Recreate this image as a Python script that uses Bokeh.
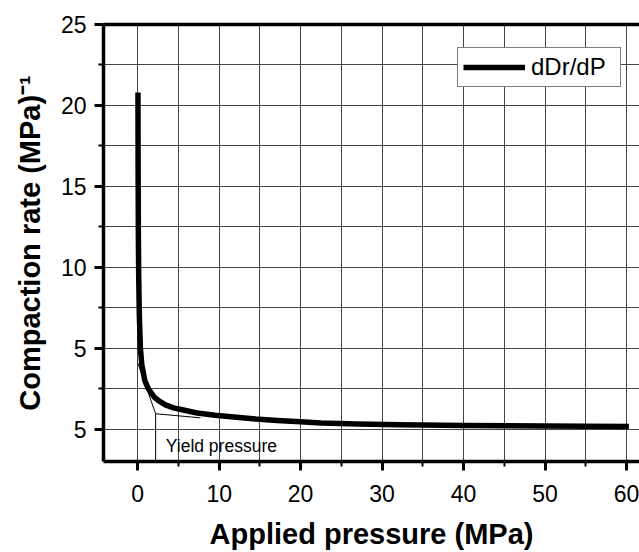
from bokeh.plotting import figure
from bokeh.models import (SingleIntervalTicker, FixedTicker, LinearAxis, Legend,
                          LegendItem, Range1d)
from bokeh.core.properties import value
from bokeh.embed import file_html
from bokeh.resources import INLINE

# ---- data ----
pressure = [0.03, 0.05, 0.08, 0.12, 0.2, 0.33, 0.5, 0.87, 1.3, 2.0, 2.6, 3.4,
            4.5, 5.6, 7.3, 9.5, 11.8, 14.5, 17.1, 20.0, 22.5, 27.0, 32.0,
            40.0, 50.0, 60.3]
rate = [20.8, 16.0, 12.0, 9.5, 7.0, 5.0, 4.0, 3.0, 2.5, 2.0, 1.75, 1.5,
        1.3, 1.18, 1.0, 0.86, 0.75, 0.62, 0.53, 0.45, 0.38, 0.32, 0.27,
        0.22, 0.19, 0.17]
tangent_x = [0.0, 2.2, 7.7]
tangent_y = [4.1, 0.95, 0.7]
yield_x = [2.2, 2.2]
yield_y = [0.95, -2.0]
note_x = [3.44]
note_y = [-1.02]
note_text = ["Yield pressure"]
y_ticks = [0, 5, 10, 15, 20, 25]
y_tick_labels = ["5", "5", "10", "15", "20", "25"]
series_name = "dDr/dP"

FONT = "Liberation Sans"

p = figure(width=639, height=552, output_backend="svg", toolbar_location=None,
           x_range=Range1d(-4.2, 61.6), y_range=Range1d(-2, 25),
           min_border_left=103, min_border_right=0, min_border_top=24,
           min_border_bottom=90)
p.outline_line_color = None
p.background_fill_color = "white"
p.border_fill_color = "white"

xt = SingleIntervalTicker(interval=10, num_minor_ticks=2)
yt = SingleIntervalTicker(interval=5, num_minor_ticks=2)
p.xaxis.ticker = xt
p.yaxis.ticker = yt
p.xgrid.ticker = xt
p.ygrid.ticker = yt
p.yaxis.major_label_overrides = {t: l for t, l in zip(y_ticks, y_tick_labels)}

for g in (p.xgrid, p.ygrid):
    g.grid_line_color = "#444444"
    g.grid_line_width = 1
    g.minor_grid_line_color = "#444444"
    g.minor_grid_line_width = 1

for ax in (p.xaxis, p.yaxis):
    ax.axis_line_width = 3.5
    ax.axis_line_color = "black"
    ax.major_tick_line_width = 3
    ax.minor_tick_line_width = 2
    ax.major_tick_in = 0
    ax.major_tick_out = 9
    ax.minor_tick_in = 0
    ax.minor_tick_out = 5
    ax.major_label_text_font = FONT
    ax.major_label_text_font_size = "23px"
    ax.major_label_text_color = "black"
    ax.axis_label_text_font = FONT
    ax.axis_label_text_font_size = "29px"
    ax.axis_label_text_font_style = "bold"
    ax.axis_label_text_color = "black"

p.xaxis.axis_label = "Applied pressure (MPa)"
p.yaxis.axis_label = "Compaction rate (MPa)\u207b\u00b9"
p.xaxis.major_label_standoff = 14
p.xaxis.axis_label_standoff = 13
p.yaxis.major_label_standoff = 8
p.yaxis.axis_label_standoff = 12

top = LinearAxis(ticker=FixedTicker(ticks=[]), axis_line_width=3.5,
                 major_label_text_font_size="0px", major_tick_out=0,
                 minor_tick_out=0, axis_label=None)
p.add_layout(top, "above")

r = p.line(pressure, rate, line_width=5.5, color="black", line_join="round")
p.line(tangent_x, tangent_y, line_width=1, color="black")
p.line(yield_x, yield_y, line_width=1, color="black")
p.text(x=note_x, y=note_y, text=note_text, text_font=value(FONT),
       text_font_size="17.5px", text_baseline="alphabetic", text_align="left",
       text_color="black")

legend = Legend(items=[LegendItem(label=series_name, renderers=[r])],
                location=(354, 374), padding=5, spacing=0,
                glyph_width=62, glyph_height=22, label_height=22,
                label_width=84, label_standoff=6,
                label_text_font=FONT, label_text_font_size="24px",
                label_text_color="black",
                border_line_color="black", border_line_width=1,
                background_fill_color="white", background_fill_alpha=1)
p.add_layout(legend)

open("out.html", "w").write(file_html(p, INLINE))
